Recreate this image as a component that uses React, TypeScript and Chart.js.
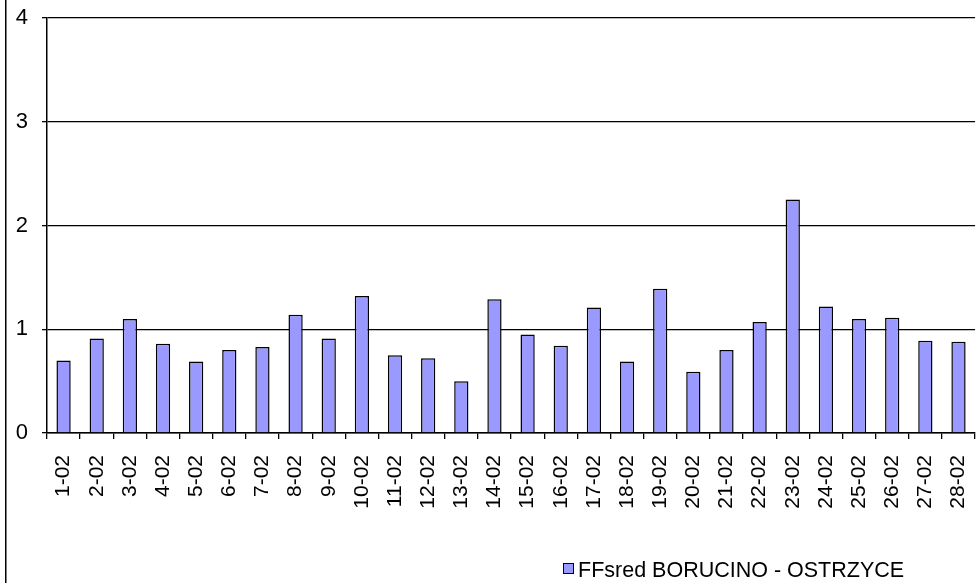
import React, { useEffect, useRef } from "react";
import { Chart, registerables } from "chart.js";

Chart.register(...registerables);

const categories: string[] = [
  "1-02", "2-02", "3-02", "4-02", "5-02", "6-02", "7-02", "8-02", "9-02", "10-02",
  "11-02", "12-02", "13-02", "14-02", "15-02", "16-02", "17-02", "18-02", "19-02", "20-02",
  "21-02", "22-02", "23-02", "24-02", "25-02", "26-02", "27-02", "28-02",
];

const seriesName = "FFsred BORUCINO - OSTRZYCE";

const ffsred: number[] = [
  0.70, 0.91, 1.10, 0.86, 0.69, 0.80, 0.83, 1.14, 0.91, 1.32,
  0.75, 0.72, 0.50, 1.29, 0.95, 0.84, 1.21, 0.69, 1.39, 0.59,
  0.80, 1.07, 2.25, 1.22, 1.10, 1.11, 0.89, 0.88,
];

const yTicks: number[] = [0, 1, 2, 3, 4];

const FONT = "'Liberation Sans', Arial, sans-serif";
const BAR_FILL = "#9999FF";

const framePlugin = {
  id: "frameAndLegend",
  afterDraw(chart: any) {
    const ctx = chart.ctx;
    ctx.save();
    // outer chart frame (left edge visible)
    ctx.strokeStyle = "#000";
    ctx.lineWidth = 1.5;
    ctx.beginPath();
    ctx.moveTo(5.75, 0);
    ctx.lineTo(5.75, chart.height);
    ctx.stroke();

    // legend
    const ds = chart.data.datasets[0];
    const bx = 563;
    const by = 563;
    ctx.fillStyle = ds.backgroundColor;
    ctx.fillRect(bx, by, 10, 10);
    ctx.strokeStyle = "#000";
    ctx.lineWidth = 1;
    ctx.strokeRect(bx + 0.5, by + 0.5, 10, 10);
    ctx.fillStyle = "#000";
    ctx.font = `21.5px ${FONT}`;
    ctx.textAlign = "left";
    ctx.textBaseline = "alphabetic";
    ctx.fillText(ds.label, 578, 577);
    ctx.restore();
  },
};

export default function App() {
  const canvasRef = useRef<HTMLCanvasElement | null>(null);

  useEffect(() => {
    const canvas = canvasRef.current;
    if (!canvas) return;
    const chart = new Chart(canvas, {
      type: "bar",
      data: {
        labels: categories,
        datasets: [
          {
            label: seriesName,
            data: ffsred,
            backgroundColor: BAR_FILL,
            borderColor: "#000",
            borderWidth: 1.5,
            categoryPercentage: 1,
            barPercentage: 0.43,
          },
        ],
      },
      options: {
        responsive: false,
        animation: false,
        devicePixelRatio: 1,
        layout: { padding: { top: 18, right: 17, left: 0, bottom: 0 } },
        plugins: {
          legend: { display: false },
          tooltip: { enabled: false },
          title: { display: false },
        },
        scales: {
          x: {
            type: "category",
            offset: true,
            grid: {
              display: true,
              drawOnChartArea: false,
              drawTicks: true,
              tickLength: 6,
              offset: true,
              color: "#000",
              lineWidth: 1.3,
            },
            border: { display: true, color: "#000", width: 1.5 },
            ticks: {
              color: "#000",
              font: { family: FONT, size: 21 },
              minRotation: 90,
              maxRotation: 90,
              autoSkip: false,
              padding: 16,
            },
            afterFit: (scale: any) => {
              scale.height = 150;
            },
          },
          y: {
            min: 0,
            max: 4,
            afterBuildTicks: (scale: any) => {
              scale.ticks = yTicks.map((v) => ({ value: v }));
            },
            grid: {
              color: "#000",
              lineWidth: 1.3,
              drawTicks: true,
              tickLength: 5,
            },
            border: { display: true, color: "#000", width: 1.5 },
            ticks: {
              color: "#000",
              font: { family: FONT, size: 22 },
              padding: 14,
            },
            afterFit: (scale: any) => {
              scale.width = 47;
              scale.paddingTop = 0;
              scale.paddingBottom = 0;
            },
          },
        },
      },
      plugins: [framePlugin],
    });
    return () => chart.destroy();
  }, []);

  return (
    <div
      style={{
        position: "fixed",
        left: 0,
        top: 0,
        width: 978,
        height: 583,
        overflow: "hidden",
        background: "#fff",
      }}
    >
      <canvas
        ref={canvasRef}
        width={1000}
        height={583}
        style={{ display: "block", width: 1000, height: 583 }}
      />
    </div>
  );
}
